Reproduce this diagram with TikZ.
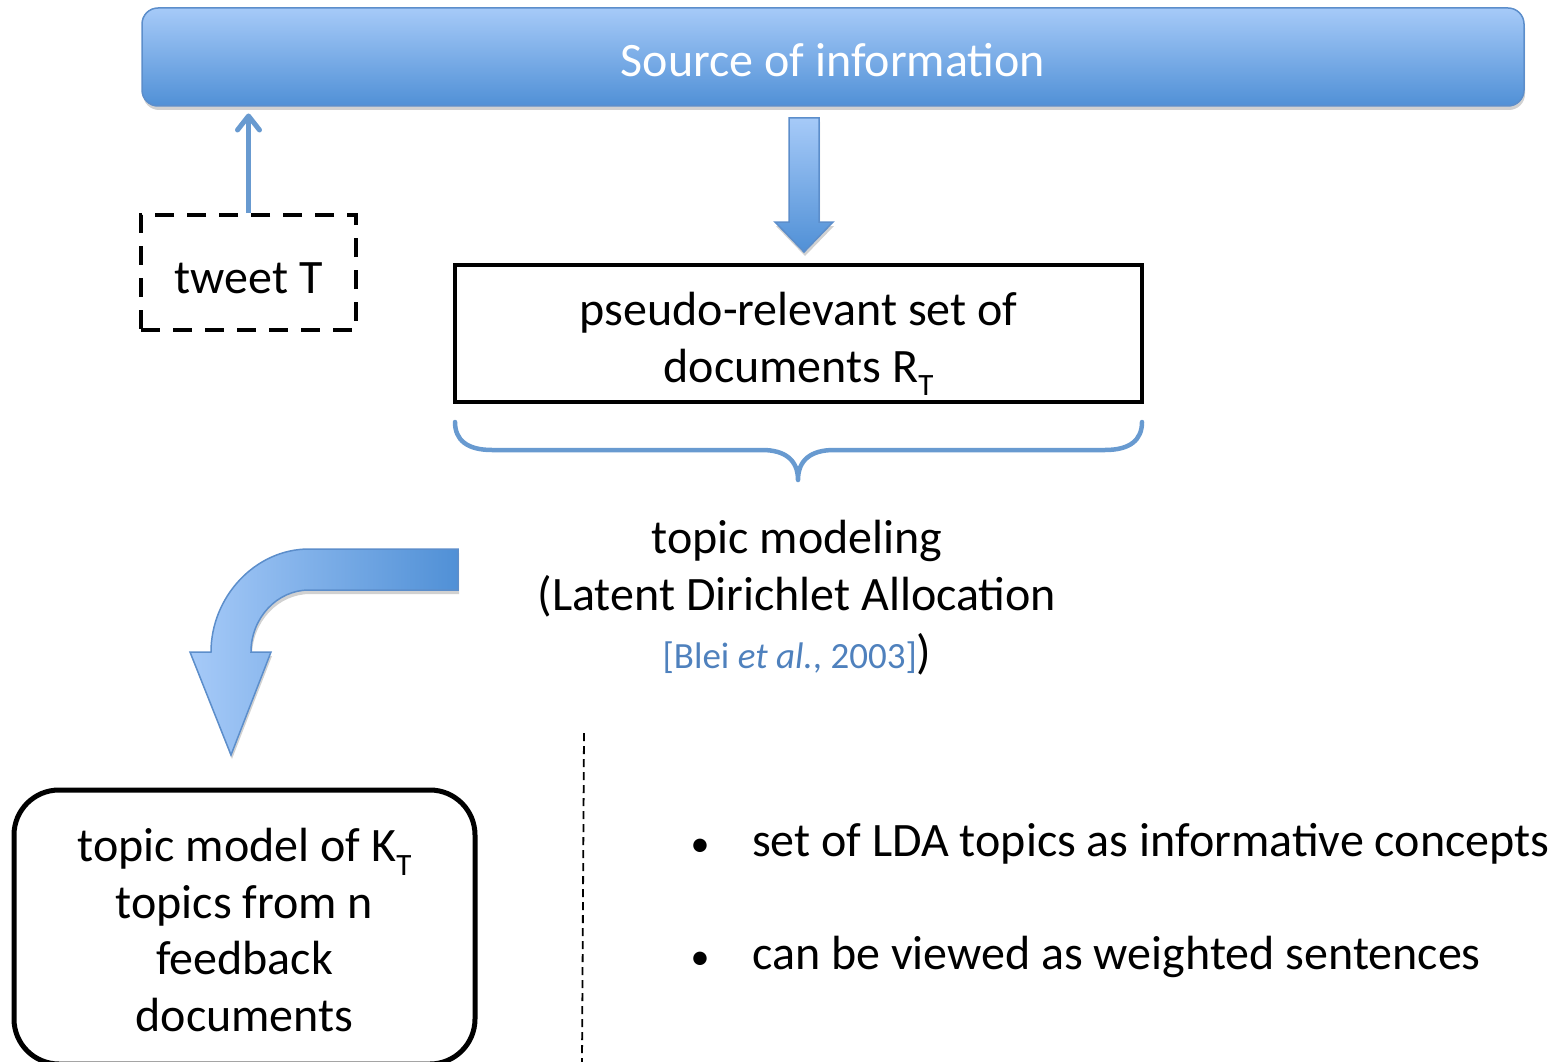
\documentclass[tikz,border=0pt]{standalone}
\usepackage{fontspec}
\setmainfont{Carlito}
\usetikzlibrary{arrows.meta,shadows,calc}
\definecolor{blight}{RGB}{166,202,248}
\definecolor{bdark}{RGB}{80,144,214}
\definecolor{bborder}{RGB}{92,142,203}
\definecolor{lineblue}{RGB}{104,154,208}
\definecolor{citeblue}{RGB}{79,129,189}
\newcommand{\subT}{\raisebox{-0.28em}{\fontsize{31}{31}\selectfont T}}
\begin{document}
\begin{tikzpicture}[x=1pt,y=-1pt,
  txt/.style={font=\fontsize{48}{56.5}\selectfont, inner sep=0pt},
  softshadow/.style={drop shadow={shadow xshift=1pt, shadow yshift=-4pt, opacity=0.18, fill=black}},
  srcbar/.style={rectangle, rounded corners=16pt, draw=bborder, line width=1.5pt,
     top color=blight, bottom color=bdark, text=white, softshadow,
     minimum width=1382pt, minimum height=98pt, font=\fontsize{48}{56.5}\selectfont},
  tweetbox/.style={rectangle, draw=black, line width=4pt, dash pattern=on 19pt off 13pt,
     minimum width=215pt, minimum height=115pt, font=\fontsize{48}{56.5}\selectfont},
  docbox/.style={rectangle, draw=black, line width=4.5pt, align=center,
     minimum width=687pt, minimum height=137pt, font=\fontsize{48}{56.5}\selectfont},
  modelbox/.style={rectangle, rounded corners=45pt, draw=black, line width=5pt, align=center,
     minimum width=461pt, minimum height=274pt, font=\fontsize{48}{56.5}\selectfont},
  thinarrow/.style={draw=lineblue, line width=4.5pt},
  thinhead/.style={draw=lineblue, line width=5pt, line cap=round, line join=round},
  bracestyle/.style={draw=lineblue, line width=4.5pt, line cap=round, line join=round},
  blockarrow/.style={draw=bborder, line width=1.5pt, softshadow},
  sepline/.style={draw=black, line width=1.8pt, dash pattern=on 8pt off 5pt}
]
\useasboundingbox (0,0) rectangle (1560,1062);

% top bar
\node[srcbar] (src) at (833,57) {\rule{0pt}{40pt}Source of information};

% tweet box and thin arrow
\node[tweetbox] (tweet) at (248.5,272.5) {\rule{0pt}{42pt}tweet T};
\coordinate (tweettip) at (248.5,116);
\draw[thinarrow] (tweet.north) -- (tweettip);
\draw[thinhead] ($(tweettip)+(-11,14)$) -- (tweettip) -- ($(tweettip)+(11,14)$);

% pseudo-relevant documents box
\node[docbox] (docs) at (798.5,333.5) {\rule{0pt}{54pt}pseudo-relevant set of\\documents R\subT};

% block arrow down
\path[blockarrow, top color=blight, bottom color=bdark]
  (789,118) -- (819,118) -- (819,222) -- (833,222) -- (804,252) -- (775,222) -- (789,222) -- cycle;

% brace
\coordinate (braceL) at (455,422);
\coordinate (braceR) at (1142,422);
\coordinate (braceTip) at (798,480);
\draw[bracestyle] (braceL) .. controls (455,440) and (467,450) .. (492,450) -- (762,450)
   .. controls (785,450) and (798,460) .. (braceTip)
   .. controls (798,460) and (811,450) .. (834,450) -- (1105,450)
   .. controls (1130,450) and (1142,440) .. (braceR);

% topic modeling text
\node[txt, anchor=base] (lda1) at (797,553) {topic modeling};
\node[txt, anchor=base] (lda2) at (797,610) {(Latent Dirichlet Allocation};
\node[txt, anchor=base] (lda3) at (797,668) {{\fontsize{37}{40}\selectfont\color{citeblue}[Blei \textit{et al.}, 2003]})};

% curved block arrow
\path[blockarrow, left color=blight, right color=bdark]
  (458,549) -- (309,549) .. controls (255,549) and (211,597) .. (211,652)
  -- (190,652) -- (231,755) -- (271,652) -- (251,652)
  .. controls (251,618) and (277,590) .. (309,590) -- (458,590) -- cycle;

% topic model box
\node[modelbox] (model) at (244.5,927) {\rule{0pt}{39pt}topic model of K\subT\\topics from n\\feedback\\documents};

% dashed separator
\coordinate (sepTop) at (584,733);
\coordinate (sepBot) at (582,1062);
\draw[sepline] (sepTop) -- (sepBot);

% bullets
\node[anchor=base, inner sep=0pt, font=\fontsize{38}{40}\selectfont] (b1) at (700,856) {•};
\node[txt, anchor=base west] (t1) at (752,856) {set of LDA topics as informative concepts};
\node[anchor=base, inner sep=0pt, font=\fontsize{38}{40}\selectfont] (b2) at (700,969) {•};
\node[txt, anchor=base west] (t2) at (752,969) {can be viewed as weighted sentences};
\end{tikzpicture}
\end{document}
